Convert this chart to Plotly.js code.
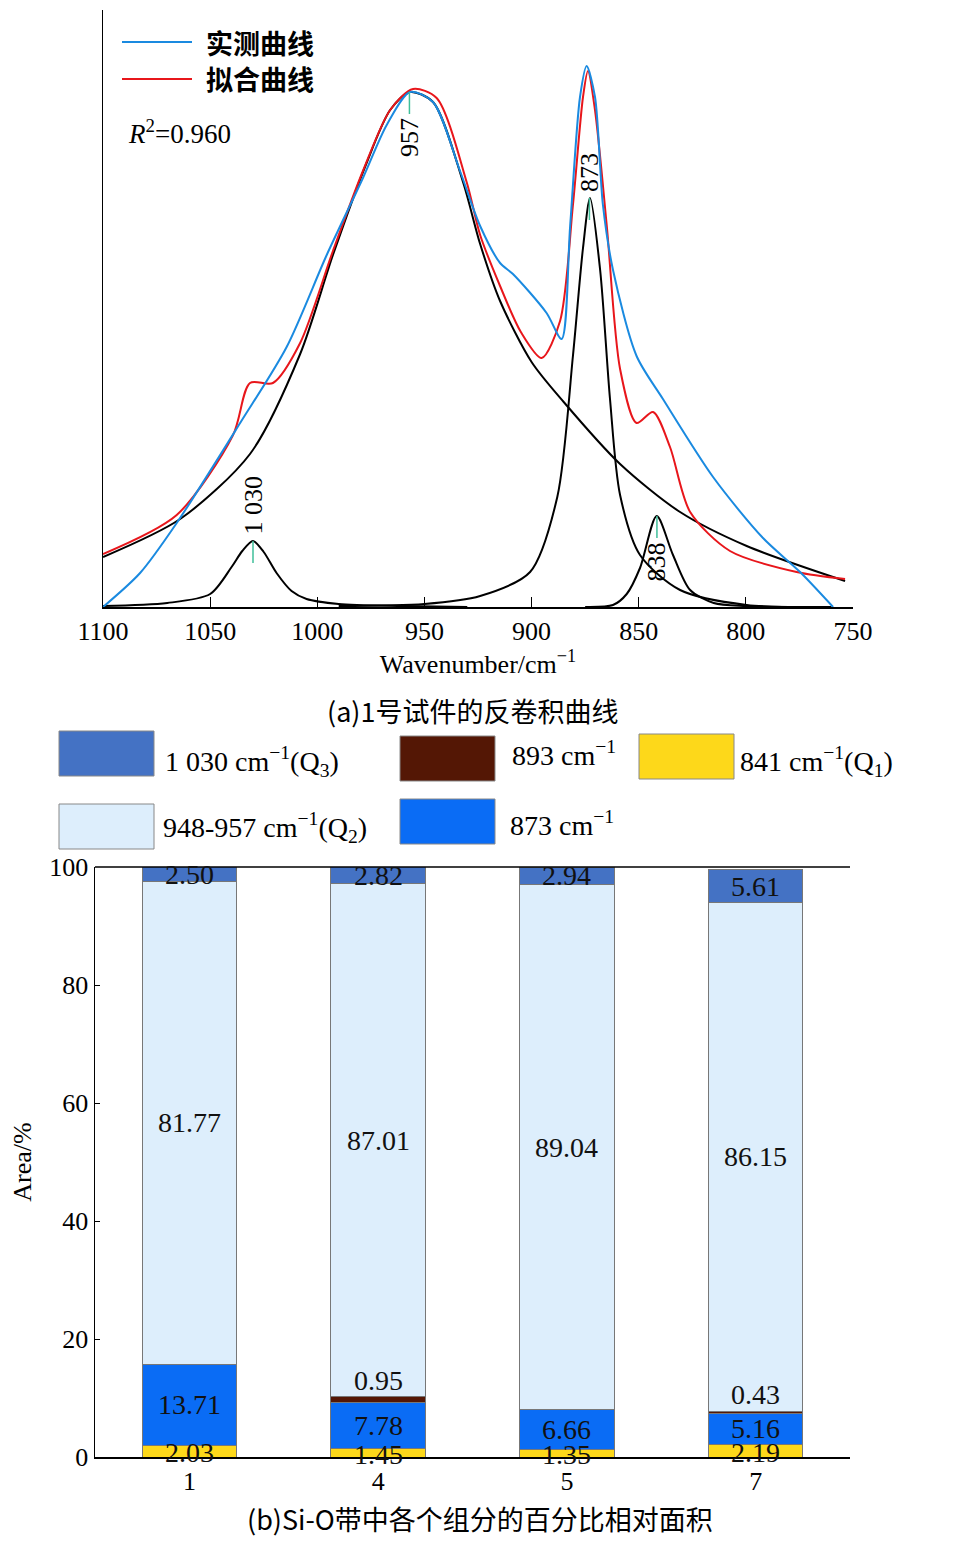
<!DOCTYPE html>
<html><head><meta charset="utf-8">
<script src="https://cdn.plot.ly/plotly-3.0.1.min.js"></script>
<style>body{margin:0;background:#fff}#c{width:970px;height:1545px}</style>
</head><body><div id="c"></div>
<script>
// ---- (a) deconvolution curves (wavenumber, relative intensity) ----
const measW = [1100,1082.7,1065.6,1036,1014.3,995.6,978.7,967.6,956.7,946,933.4,924,914.7,908.7,893,886,882,877.4,874.3,870.4,866.7,862,851,838.7,815.3,792,774.7,759.3];
const measI = [0,34,84,184,260,352,429,482,515,505,436,381,344,333,294,268,381,510,541,510,402,337,251,208,130,69,35,0];
const fitW = [1100,1065.6,1039.3,1031.4,1020.7,1008,992.7,978.7,966,955.3,944.3,930.3,924,914.7,905,895.3,886.7,880.7,876,873.7,870.4,864.9,858.7,851,843.3,835.4,826,807.4,776.3,753.7];
const fitI = [53,92,172,224,224,264,356,436,497,518,509,425,372,321,275,249,286,402,510,536,497,381,238,184,195,160,95,56,35,28];
const c957W = [1100,1064,1031.4,1008,992.7,977,966,956.7,946,932,924,914.7,900,885,858.7,830.7,799.6,753.7];
const c957I = [50,88,153,253,352,444,497,515,505,425,363,306,245,205,143,95,61,26];
const c1030W = [1100,1070,1050,1040,1035,1030,1025,1019,1012,1005,990,960,930];
const c1030I = [1,4,13,40,56,66,55,34,16,8,3,1,0];
const c873W = [990,950,924,900.7,888,880.7,876,872.7,868,863.4,858.7,849.4,830.7,799.6,760];
const c873I = [1,3,11,35,110,251,359,409,337,208,112,52,17,2,0];
const c838W = [875,862,855.6,849.4,841.6,834,826,815,800,780];
const c838I = [0,2,13,39,91,52,17,4,1,0];
const peakLabels = ['1 030','957','873','838'];
const peakPos = [1030,957,873,841.5];
const peakTop = [66,515,409,91];

// ---- (b) relative areas ----
const samples = ['1','4','5','7'];
const a841 = [2.03,1.45,1.35,2.19];
const a873 = [13.71,7.78,6.66,5.16];
const a893 = [0,0.95,0,0.43];
const a948 = [81.77,87.01,89.04,86.15];
const a1030 = [2.50,2.82,2.94,5.61];
const compNames = ['841 cm<sup>−1</sup>(Q<sub>1</sub>)','873 cm<sup>−1</sup>','893 cm<sup>−1</sup>','948-957 cm<sup>−1</sup>(Q<sub>2</sub>)','1 030 cm<sup>−1</sup>(Q<sub>3</sub>)'];
const compColors = ['#fdd81a','#0a6cf5','#541705','#ddeefc','#4472c4'];

const W=970,H=1545;
const px=x=>x/W, py=y=>1-y/H;
const SERIF='Liberation Serif, Times New Roman, serif';
const CJK='Noto Sans CJK SC, sans-serif';
const idx=samples.map((s,i)=>i);

const blk={color:'#000',width:2};
const traces=[
 {x:c1030W,y:c1030I,mode:'lines',line:Object.assign({shape:'spline',smoothing:0.8},blk)},
 {x:c873W,y:c873I,mode:'lines',line:Object.assign({shape:'spline',smoothing:0.8},blk)},
 {x:c838W,y:c838I,mode:'lines',line:Object.assign({shape:'spline',smoothing:0.8},blk)},
 {x:c957W,y:c957I,mode:'lines',line:Object.assign({shape:'spline',smoothing:0.8},blk)},
 {x:fitW,y:fitI,mode:'lines',line:{color:'#e8161b',width:2,shape:'spline',smoothing:0.8}},
 {x:measW,y:measI,mode:'lines',line:{color:'#1a8ae0',width:2,shape:'spline',smoothing:0.8}}
];
const parts=[a841,a873,a893,a948,a1030];
parts.forEach((arr,i)=>traces.push({type:'bar',x:idx,y:arr,xaxis:'x2',yaxis:'y2',width:0.5,
  marker:{color:compColors[i],line:{color:'#777',width:1}},name:compNames[i]}));

const shapes=[],ann=[];
peakPos.forEach((p,i)=>{
  shapes.push({type:'line',xref:'x',yref:'y',x0:p,x1:p,y0:peakTop[i]-22,y1:peakTop[i],line:{color:'#3fbf9a',width:1.5}});
  const below=(i===1||i===3);
  ann.push({xref:'x',yref:'y',x:p,y:below?peakTop[i]-24:peakTop[i]+4,text:peakLabels[i],textangle:-90,showarrow:false,
    xanchor:'center',yanchor:below?'top':'bottom',font:{family:SERIF,size:26,color:'#000'}});
});
[['#1a8ae0','实测曲线',42],['#e8161b','拟合曲线',79]].forEach(([c,t,y])=>{
  shapes.push({type:'line',xref:'paper',yref:'paper',x0:px(122),x1:px(192),y0:py(y),y1:py(y),line:{color:c,width:2}});
  ann.push({xref:'paper',yref:'paper',x:px(204),y:py(y),text:'<b>'+t+'</b>',showarrow:false,xanchor:'left',yanchor:'middle',font:{family:CJK,size:27,color:'#000'}});
});
ann.push({xref:'paper',yref:'paper',x:px(126),y:py(132),text:'<i>R</i><sup>2</sup>=0.960',showarrow:false,xanchor:'left',yanchor:'middle',font:{family:SERIF,size:27,color:'#000'}});
ann.push({xref:'paper',yref:'paper',x:px(472),y:py(710),text:'(a)1号试件的反卷积曲线',showarrow:false,xanchor:'center',yanchor:'middle',font:{family:CJK,size:27,color:'#000'}});
ann.push({xref:'paper',yref:'paper',x:px(480),y:py(1518),text:'(b)Si-O带中各个组分的百分比相对面积',showarrow:false,xanchor:'center',yanchor:'middle',font:{family:CJK,size:27,color:'#000'}});
const leg=[[4,59,731,163,761],[2,400,736,510,753],[0,639,734,738,761],[3,59,804,161,828],[1,400,799,508,823]];
leg.forEach(([i,x,y,tx,ty])=>{
  shapes.push({type:'rect',xref:'paper',yref:'paper',x0:px(x),x1:px(x+95),y0:py(y),y1:py(y+45),fillcolor:compColors[i],line:{color:'#888',width:1}});
  ann.push({xref:'paper',yref:'paper',x:px(tx),y:py(ty),text:compNames[i],showarrow:false,xanchor:'left',yanchor:'middle',font:{family:SERIF,size:28,color:'#000'}});
});
shapes.push({type:'line',xref:'paper',yref:'paper',x0:px(95),x1:px(850),y0:py(867),y1:py(867),line:{color:'#000',width:1.5}});
idx.forEach(j=>{
  let base=0;
  parts.forEach((arr,i)=>{
    const v=arr[j];
    if(v>0){
      let y=base+v/2;
      if(i===2) y=base+v+2.8;
      if(i===0) y=base+v/2-0.3;
      ann.push({xref:'x2',yref:'y2',x:j,y:y,text:v.toFixed(2),showarrow:false,xanchor:'center',yanchor:'middle',font:{family:SERIF,size:28,color:'#111'}});
    }
    base+=v;
  });
});

const layout={width:W,height:H,margin:{l:0,r:0,t:0,b:0},paper_bgcolor:'#fff',plot_bgcolor:'#fff',showlegend:false,
 xaxis:{domain:[px(103),px(853)],range:[1100,750],showgrid:false,zeroline:false,showline:true,linecolor:'#000',linewidth:1.5,
   ticks:'inside',ticklen:10,tickcolor:'#000',tickvals:[1100,1050,1000,950,900,850,800,750],
   tickfont:{family:SERIF,size:26,color:'#000'},title:{text:'Wavenumber/cm<sup>−1</sup>',font:{family:SERIF,size:26,color:'#000'},standoff:4},anchor:'y'},
 yaxis:{domain:[py(607),py(10)],range:[0,597],showgrid:false,zeroline:false,showline:true,linecolor:'#000',linewidth:1.5,showticklabels:false,ticks:'',anchor:'x'},
 xaxis2:{domain:[px(95),px(850)],range:[-0.5,3.5],tickvals:idx,ticktext:samples,showgrid:false,zeroline:false,showline:true,linecolor:'#000',linewidth:1.5,ticks:'',
   tickfont:{family:SERIF,size:26,color:'#000'},anchor:'y2'},
 yaxis2:{domain:[py(1457),py(867)],range:[0,100],showgrid:false,zeroline:false,showline:true,linecolor:'#000',linewidth:1.5,
   tickvals:[0,20,40,60,80,100],ticks:'inside',ticklen:5,tickcolor:'#000',tickfont:{family:SERIF,size:26,color:'#000'},
   title:{text:'Area/%',font:{family:SERIF,size:26,color:'#000'},standoff:10},anchor:'x2'},
 barmode:'stack',shapes:shapes,annotations:ann
};
Plotly.newPlot('c',traces,layout,{displayModeBar:false,staticPlot:true});
</script></body></html>
